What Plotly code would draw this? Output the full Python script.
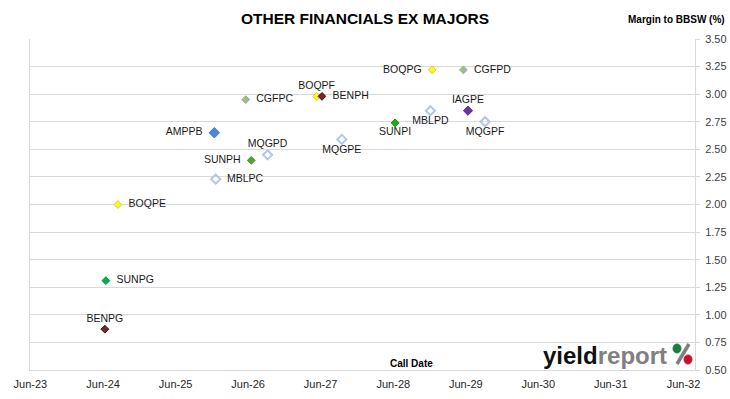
import plotly.graph_objects as go

# ---- data ----
securities = ["CGFPC", "BOQPF", "BENPH", "AMPPB", "MQGPD", "SUNPH", "MBLPC", "MQGPE",
              "BOQPG", "CGFPD", "MBLPD", "IAGPE", "SUNPI", "MQGPF", "BOQPE", "SUNPG", "BENPG"]
call_dates = ["2026-05-20", "2027-05-12", "2027-06-08", "2025-12-13", "2026-09-07", "2026-06-17",
              "2025-12-20", "2027-09-16", "2028-12-14", "2029-05-20", "2028-12-05", "2029-06-12",
              "2028-06-10", "2029-09-06", "2024-08-15", "2024-06-15", "2024-06-10"]
margins = [2.95, 2.98, 2.98, 2.65, 2.45, 2.40, 2.23, 2.59,
           3.22, 3.22, 2.85, 2.85, 2.74, 2.75, 2.00, 1.31, 0.87]
x_tick_dates = ["2023-06-01", "2024-06-01", "2025-06-01", "2026-06-01", "2027-06-01",
                "2028-06-01", "2029-06-01", "2030-06-01", "2031-06-01", "2032-06-01"]
x_tick_labels = ["Jun-23", "Jun-24", "Jun-25", "Jun-26", "Jun-27",
                 "Jun-28", "Jun-29", "Jun-30", "Jun-31", "Jun-32"]

# ---- styles ----
style = {
    "CGFPC": dict(color="#A4BE74", line="#92AACB", symbol="diamond", size=6),
    "CGFPD": dict(color="#A4BE74", line="#92AACB", symbol="diamond", size=6),
    "BOQPF": dict(color="#FFFF00", line="#C8C860", symbol="diamond", size=6),
    "BOQPG": dict(color="#FFFF00", line="#C8C860", symbol="diamond", size=6),
    "BOQPE": dict(color="#FFFF00", line="#C8C860", symbol="diamond", size=6),
    "BENPH": dict(color="#772828", line="#3E1414", symbol="diamond", size=6),
    "BENPG": dict(color="#772828", line="#3E1414", symbol="diamond", size=6),
    "AMPPB": dict(color="#4F86DA", line="#3F76CA", symbol="diamond", size=8),
    "MQGPD": dict(color="#B4C6E7", line="#B4C6E7", symbol="diamond-open", size=7),
    "MQGPE": dict(color="#B4C6E7", line="#B4C6E7", symbol="diamond-open", size=7),
    "MQGPF": dict(color="#B4C6E7", line="#B4C6E7", symbol="diamond-open", size=7),
    "MBLPC": dict(color="#B4C6E7", line="#B4C6E7", symbol="diamond-open", size=7),
    "MBLPD": dict(color="#B4C6E7", line="#B4C6E7", symbol="diamond-open", size=7),
    "SUNPH": dict(color="#5E9E3A", line="#4E8E2A", symbol="diamond", size=6),
    "SUNPI": dict(color="#14B014", line="#0A900A", symbol="diamond", size=6),
    "SUNPG": dict(color="#00B050", line="#009840", symbol="diamond", size=6),
    "IAGPE": dict(color="#7030A0", line="#5A2090", symbol="diamond", size=7),
}
label_pos = {
    "CGFPC": "middle right", "BOQPF": "top center", "BENPH": "middle right",
    "AMPPB": "middle left", "MQGPD": "top center", "SUNPH": "middle left",
    "MBLPC": "middle right", "MQGPE": "bottom center", "BOQPG": "middle left",
    "CGFPD": "middle right", "MBLPD": "bottom center", "IAGPE": "top center",
    "SUNPI": "bottom center", "MQGPF": "bottom center", "BOQPE": "middle right",
    "SUNPG": "middle right", "BENPG": "top center",
}

font_family = "Liberation Sans, Arial, sans-serif"
grid = "#D9D9D9"

fig = go.Figure()
fig.add_trace(go.Scatter(
    x=call_dates, y=margins, mode="markers+text",
    text=["  " + s + "  " if "center" not in label_pos[s] else s for s in securities],
    textposition=[label_pos[s] for s in securities],
    textfont=dict(family=font_family, size=10.5, color="#1a1a1a"),
    marker=dict(
        symbol=[style[s]["symbol"] for s in securities],
        size=[style[s]["size"] for s in securities],
        color=[style[s]["color"] for s in securities],
        opacity=1,
        line=dict(color=[style[s]["line"] for s in securities],
                  width=[2 if "open" in style[s]["symbol"] else 1 for s in securities]),
    ),
    cliponaxis=False,
    showlegend=False,
    hoverinfo="x+y+text",
))

fig.update_layout(
    width=730, height=399,
    margin=dict(l=30, r=35, t=39, b=29, autoexpand=False),
    paper_bgcolor="white", plot_bgcolor="white",
    font=dict(family=font_family, size=11, color="#262626"),
    title=dict(text="<b>OTHER FINANCIALS EX MAJORS</b>", x=0.5, xref="container", xanchor="center",
               y=1 - 19 / 399, yref="container", yanchor="middle",
               font=dict(family=font_family, size=15.5, color="black")),
    xaxis=dict(type="date", range=["2023-05-30", "2032-07-29"],
               tickvals=x_tick_dates, ticktext=x_tick_labels,
               showgrid=False, zeroline=False, showline=True, linecolor=grid, linewidth=1,
               ticks="", ticklabelstandoff=4, automargin=False,
               tickfont=dict(family=font_family, size=11, color="#262626")),
    yaxis=dict(range=[0.5, 3.5], dtick=0.25, tick0=0.5, tickformat=".2f", side="right",
               showgrid=True, gridcolor=grid, gridwidth=1, zeroline=False,
               showline=True, linecolor=grid, linewidth=1, mirror=True,
               ticks="outside", ticklen=4, tickcolor=grid, ticklabelstandoff=3, automargin=False,
               tickfont=dict(family=font_family, size=11, color="#404040")),
    annotations=[
        dict(text="<b>Margin to BBSW (%)</b>", xref="paper", yref="paper", x=1, y=1,
             xanchor="right", yanchor="middle", xshift=32, yshift=20, showarrow=False,
             font=dict(family=font_family, size=10, color="black")),
        dict(text="<b>Call Date</b>", xref="paper", yref="paper", x=(412 - 30) / 665, y=(370 - 363) / 331,
             xanchor="center", yanchor="middle", showarrow=False,
             font=dict(family=font_family, size=10, color="black")),
        dict(text="<b><span style='color:#111111'>yield</span><span style='color:#808080'>report</span></b>",
             xref="paper", yref="paper", x=(541 - 30) / 665, y=(370 - 355) / 331,
             xanchor="left", yanchor="middle", showarrow=False,
             font=dict(family=font_family, size=24)),
    ],
)

# logo percent sign (decoration)
def px(xp):
    return (xp - 30) / 665

def py(yp):
    return (370 - yp) / 331

fig.add_shape(type="line", xref="paper", yref="paper", x0=px(689), y0=py(344), x1=px(677), y1=py(364),
              line=dict(color="#7F7F7F", width=3.5))
fig.add_shape(type="circle", xref="paper", yref="paper", x0=px(673), y0=py(344), x1=px(681), y1=py(353),
              fillcolor="#1E7B3C", line=dict(color="#1E7B3C", width=1))
fig.add_shape(type="circle", xref="paper", yref="paper", x0=px(684), y0=py(355), x1=px(692), y1=py(364),
              fillcolor="#C8102E", line=dict(color="#C8102E", width=1))

fig.write_html("out.html", config={"displayModeBar": False},
               post_script="document.body.style.margin='0';document.body.style.overflow='hidden';")
